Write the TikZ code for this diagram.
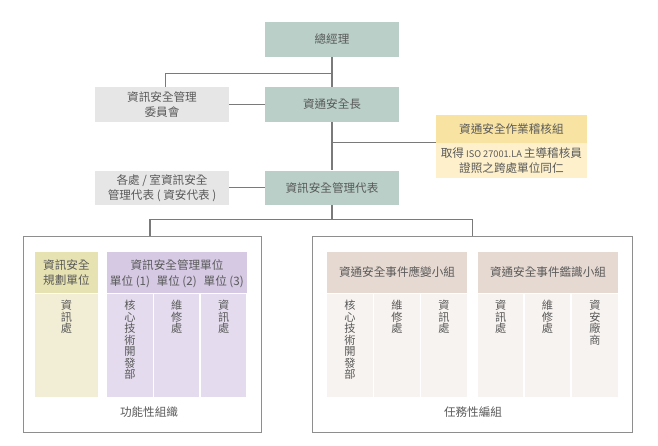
\documentclass[tikz,border=0pt]{standalone}
\usepackage{fontspec}
\setmainfont{Noto Sans CJK TC}
\usetikzlibrary{positioning,calc}

\definecolor{ink}{HTML}{595959}
\definecolor{wire}{HTML}{7A7A7A}
\definecolor{frame}{HTML}{8E8E8E}
\definecolor{mgmtfill}{HTML}{B9CFC7}
\definecolor{sidefill}{HTML}{E6E6E6}
\definecolor{audithead}{HTML}{F8E3A2}
\definecolor{auditnote}{HTML}{FDF0CB}
\definecolor{planhead}{HTML}{E6E2B2}
\definecolor{planbody}{HTML}{F2EED5}
\definecolor{unithead}{HTML}{D5C9E3}
\definecolor{unitbody}{HTML}{E4DCEE}
\definecolor{taskhead}{HTML}{E6D9D1}
\definecolor{taskbody}{HTML}{F7F3F0}

\begin{document}
\begin{tikzpicture}[
  x=1pt,y=-1pt,
  every node/.style={text=ink,font=\fontsize{11.6}{14.8}\selectfont,align=center,inner sep=0pt},
  mgmt/.style={fill=mgmtfill,minimum width=134pt,minimum height=34.5pt},
  side/.style={fill=sidefill,minimum width=134pt,minimum height=34.5pt},
  head/.style={fill=#1,minimum height=40.4pt},
  colbody/.style={fill=#1,minimum width=45.5pt,minimum height=102.4pt},
  vtext/.style={anchor=north,font=\fontsize{11.2}{11.5}\selectfont},
  link/.style={draw=wire,line width=1.1pt},
  group/.style={draw=frame,line width=1.3pt,minimum width=#1,minimum height=196pt},
]
  \useasboundingbox (0,0) rectangle (658,446);

  % Management line
  \node[mgmt] (ceo) at (332,39.4) {總經理};
  \node[mgmt] (ciso) at (332,104.5) {資通安全長};
  \node[mgmt] (rep) at (332,187.9) {資訊安全管理代表};

  % Side boxes
  \node[side] (committee) at (162,104.5) {資訊安全管理\\委員會};
  \node[side] (deputy) at (162,187.9) {各處 / 室資訊安全\\管理代表 ( 資安代表 )};

  % Audit group
  \node[fill=audithead,minimum width=150.7pt,minimum height=27.7pt] (audit) at (511.4,128.9) {資通安全作業稽核組};
  \node[fill=auditnote,minimum width=150.7pt,minimum height=35pt,below=0pt of audit] (auditinfo)
    {取得{\fontsize{9.2}{14.4}\selectfont\ ISO 27001.LA\ }主導稽核員\\證照之跨處單位同仁};

  % Group frames
  \node[group=238pt] (func) at (142.3,334.7) {};
  \node[group=320pt] (task) at (472.3,334.7) {};
  \node (funclabel) at (149,411.7) {功能性組織};
  \node (tasklabel) at (473,411.7) {任務性編組};

  % Functional organisation
  \node[head=planhead,minimum width=62.7pt] (plan) at (66.4,272.5) {資訊安全\\規劃單位};
  \node[colbody=planbody,minimum width=62.7pt] (plan1) at (66.4,345.5) {};
  \node[head=unithead,minimum width=139.4pt] (unit) at (177,272.5) {};
  \node (unittitle) at (177,265) {資訊安全管理單位};
  \node[colbody=unitbody] (unit1) at (130,345.5) {};
  \node[colbody=unitbody] (unit2) at (176.7,345.5) {};
  \node[colbody=unitbody] (unit3) at (223.7,345.5) {};
  \node (unitno1) at (130,281.7) {單位 (1)};
  \node (unitno2) at (176.7,281.7) {單位 (2)};
  \node (unitno3) at (223.7,281.7) {單位 (3)};

  \node[vtext] at ([yshift=-6pt]plan1.north) {資\\訊\\處};
  \node[vtext] at ([yshift=-6pt]unit1.north) {核\\心\\技\\術\\開\\發\\部};
  \node[vtext] at ([yshift=-6pt]unit2.north) {維\\修\\處};
  \node[vtext] at ([yshift=-6pt]unit3.north) {資\\訊\\處};

  % Task groups
  \node[head=taskhead,minimum width=140pt] (incident) at (397,272.4) {資通安全事件應變小組};
  \node[colbody=taskbody] (inc1) at (349.9,345.5) {};
  \node[colbody=taskbody] (inc2) at (396.9,345.5) {};
  \node[colbody=taskbody] (inc3) at (444,345.5) {};
  \node[head=taskhead,minimum width=140pt] (forensic) at (548,272.4) {資通安全事件鑑識小組};
  \node[colbody=taskbody] (for1) at (500.7,345.5) {};
  \node[colbody=taskbody] (for2) at (547.5,345.5) {};
  \node[colbody=taskbody] (for3) at (594.9,345.5) {};

  \node[vtext] at ([yshift=-6pt]inc1.north) {核\\心\\技\\術\\開\\發\\部};
  \node[vtext] at ([yshift=-6pt]inc2.north) {維\\修\\處};
  \node[vtext] at ([yshift=-6pt]inc3.north) {資\\訊\\處};
  \node[vtext] at ([yshift=-6pt]for1.north) {資\\訊\\處};
  \node[vtext] at ([yshift=-6pt]for2.north) {維\\修\\處};
  \node[vtext] at ([yshift=-6pt]for3.north) {資\\安\\廠\\商};

  % Connectors
  \coordinate (j1) at (332,73.3);
  \coordinate (j2) at (ciso.south |- auditinfo.north west);
  \coordinate (busL) at (150,219.3);
  \coordinate (busR) at (task.north |- busL);
  \path[link] (ceo) -- (ciso);
  \path[link] (j1) -| ([xshift=3.7pt]committee.north);
  \path[link] (committee) -- (ciso);
  \path[link] (ciso) -- (rep);
  \path[link] (j2) -- (auditinfo.north west);
  \path[link] (deputy) -- (rep);
  \path[link] (rep) -- (rep.south |- busL);
  \path[link] (busL |- func.north) -- (busL) -- (busR) -- (task.north);
\end{tikzpicture}
\end{document}
